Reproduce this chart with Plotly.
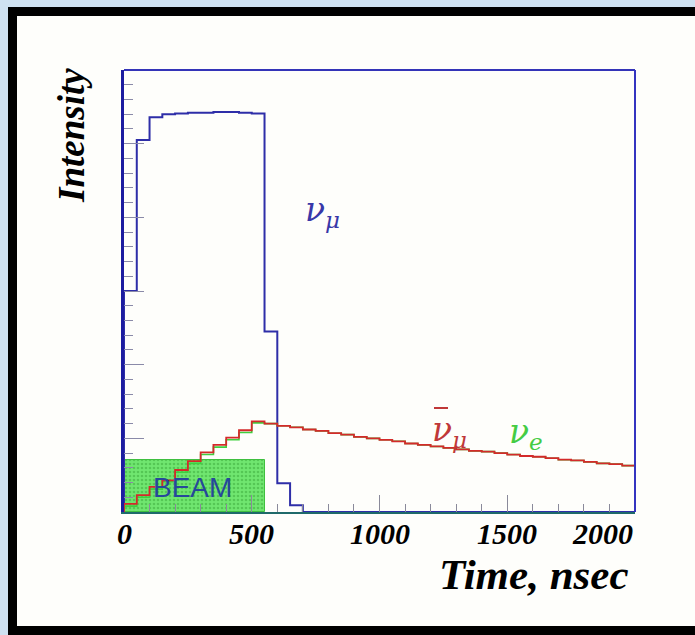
import plotly.graph_objects as go

# ---------------- data ----------------
bin_edges = list(range(0, 2001, 50))          # 40 bins of 50 ns, 0..2000 ns

numu = [3.00, 5.05, 5.36, 5.40, 5.41, 5.42, 5.42, 5.43, 5.43, 5.42, 5.41,
        2.45, 0.39, 0.09, 0.00, 0.00, 0.00, 0.00, 0.00, 0.00,
        0.00, 0.00, 0.00, 0.00, 0.00, 0.00, 0.00, 0.00, 0.00, 0.00,
        0.00, 0.00, 0.00, 0.00, 0.00, 0.00, 0.00, 0.00, 0.00, 0.00]

numubar = [0.11, 0.23, 0.34, 0.43, 0.57, 0.69, 0.81, 0.91, 1.01, 1.11, 1.23,
           1.20, 1.17, 1.15, 1.12, 1.10, 1.07, 1.05, 1.02, 1.00, 0.98,
           0.96, 0.93, 0.91, 0.89, 0.87, 0.85, 0.83, 0.82, 0.80, 0.78,
           0.76, 0.75, 0.73, 0.71, 0.70, 0.68, 0.66, 0.65, 0.63]

nue = [0.08, 0.20, 0.31, 0.41, 0.54, 0.66, 0.78, 0.88, 0.98, 1.08, 1.21,
       1.20, 1.17, 1.15, 1.12, 1.10, 1.07, 1.05, 1.02, 1.00, 0.98,
       0.96, 0.93, 0.91, 0.89, 0.87, 0.85, 0.83, 0.82, 0.80, 0.78,
       0.76, 0.75, 0.73, 0.71, 0.70, 0.68, 0.66, 0.65, 0.63]

beam_start, beam_end, beam_height = 0, 550, 0.71

tick_vals = [0, 500, 1000, 1500, 2000]
tick_labels = ["0", "500", "1000", "1500", "2000"]

# ---------------- figure ----------------
W, H = 695, 635
ML, MR, MT, MB = 124, 60, 70, 123
PW, PH = W - ML - MR, H - MT - MB


def px(xp):
    return (xp - ML) / PW


def py(yp):
    return (H - MB - yp) / PH


def step(edges, vals):
    xs = [edges[0]] + edges[:-1] + [edges[-1], edges[-1]]
    ys = [0] + vals + [vals[-1], 0]
    return xs, ys


fig = go.Figure()

fig.add_trace(go.Bar(
    x=[(beam_start + beam_end) / 2], y=[beam_height], width=[beam_end - beam_start],
    base=0,
    marker=dict(color="#70e670", line=dict(color="#3fbf3f", width=1),
                pattern=dict(shape=".", fillmode="overlay", fgcolor="#3aa83a",
                             size=4, solidity=0.35)),
    hoverinfo="skip", showlegend=False))

for vals, col, w in [(numu, "#2e2ea8", 2.0), (nue, "#3fcf3f", 1.6),
                     (numubar, "#d42a2a", 1.8)]:
    xs, ys = step(bin_edges, vals)
    fig.add_trace(go.Scatter(x=xs, y=ys, mode="lines",
                             line=dict(color=col, width=w, shape="hv"),
                             hoverinfo="skip", showlegend=False))

serif_bi = dict(family="Liberation Serif", color="black", weight="bold", style="italic")

annotations = []
for v, t in zip(tick_vals, tick_labels):
    annotations.append(dict(
        x=v, y=py(533), xref="x", yref="paper", text=t, showarrow=False,
        xanchor="right" if v == tick_vals[-1] else "center", yanchor="middle",
        font=dict(size=30, **serif_bi)))

nu_font = dict(family="DejaVu Serif", size=33, style="italic")
annotations += [
    dict(x=px(71), y=py(136), xref="paper", yref="paper", text="Intensity",
         textangle=-90, showarrow=False, xanchor="center", yanchor="middle",
         font=dict(size=37, **serif_bi)),
    dict(x=px(533), y=py(574), xref="paper", yref="paper", text="Time, nsec",
         showarrow=False, xanchor="center", yanchor="middle",
         font=dict(size=43, **serif_bi)),
    dict(x=270, y=0.33, xref="x", yref="y", text="BEAM", showarrow=False,
         xanchor="center", yanchor="middle",
         font=dict(family="Liberation Sans", size=28, color="#26489a")),
    dict(x=700, y=4.08, xref="x", yref="y", text="ν<sub>μ</sub>",
         showarrow=False, xanchor="left", yanchor="middle",
         font=dict(color="#3838a8", **nu_font)),
    dict(x=1198, y=1.09, xref="x", yref="y", text="ν<sub>μ</sub>",
         showarrow=False, xanchor="left", yanchor="middle",
         font=dict(color="#c03838", **nu_font)),
    dict(x=1499, y=1.07, xref="x", yref="y", text="ν<sub>e</sub>",
         showarrow=False, xanchor="left", yanchor="middle",
         font=dict(color="#44cc44", **nu_font)),
]

shapes = [
    # black frame and white panel
    dict(type="rect", xref="paper", yref="paper", layer="below",
         x0=px(8), x1=px(720), y0=py(660), y1=py(7),
         fillcolor="black", line=dict(width=0)),
    dict(type="rect", xref="paper", yref="paper", layer="below",
         x0=px(17), x1=px(720), y0=py(626), y1=py(16),
         fillcolor="#fefefb", line=dict(width=0)),
    # top and right frame lines
    dict(type="line", xref="paper", yref="paper", x0=0, x1=1, y0=1, y1=1,
         line=dict(color="#3434b8", width=2)),
    dict(type="line", xref="paper", yref="paper", x0=1, x1=1, y0=0, y1=1,
         line=dict(color="#3434c0", width=2)),
    # overbar of the anti-neutrino symbol
    dict(type="line", xref="paper", yref="paper",
         x0=px(434), x1=px(448), y0=py(408), y1=py(408),
         line=dict(color="#c03838", width=2)),
]

fig.update_layout(
    width=W, height=H, autosize=False,
    margin=dict(l=ML, r=MR, t=MT, b=MB, pad=0),
    paper_bgcolor="#cfe1f1", plot_bgcolor="#fefefb",
    showlegend=False, bargap=0,
    annotations=annotations, shapes=shapes,
    xaxis=dict(range=[0, 2000], showgrid=False, zeroline=False,
               showline=True, linecolor="#1f6a6a", linewidth=2,
               ticks="inside", tickvals=tick_vals, ticklen=17, tickwidth=1,
               tickcolor="#8a8a9a", showticklabels=False,
               minor=dict(dtick=100, ticks="inside", ticklen=8,
                          tickcolor="#8a8a9a", tickwidth=1, showgrid=False)),
    yaxis=dict(range=[0, 6], showgrid=False, zeroline=False,
               showline=True, linecolor="#1c1ca0", linewidth=3,
               ticks="inside", dtick=1, tick0=0, ticklen=20, tickwidth=1,
               tickcolor="#8a8aa8", showticklabels=False,
               minor=dict(dtick=0.2, ticks="inside", ticklen=9,
                          tickcolor="#8a8aa8", tickwidth=1, showgrid=False)),
)

fig.write_html("out.html")
